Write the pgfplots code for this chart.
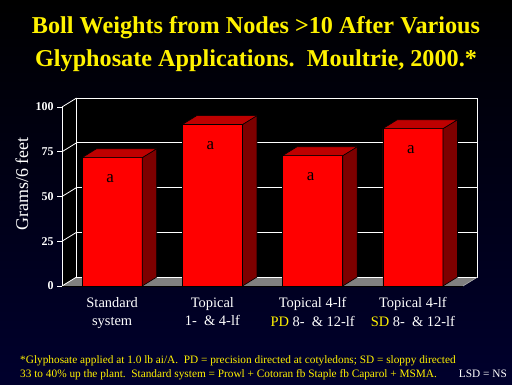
\documentclass[border=0pt]{standalone}
\usepackage{pgfplots}
\pgfplotsset{compat=1.18}
\usepackage{fontspec}
\setmainfont{Liberation Serif}
\definecolor{navybg}{RGB}{0,0,110}
\definecolor{navybot}{RGB}{0,0,45}
\definecolor{barfront}{RGB}{255,0,0}
\definecolor{bartop}{RGB}{190,0,0}
\definecolor{barside}{RGB}{125,0,0}
\definecolor{floorgray}{RGB}{128,128,128}
\begin{document}
\begin{tikzpicture}[x=1bp,y=1bp]
\useasboundingbox (0,0) rectangle (512,384);
\shade[top color=black, middle color=navybg, bottom color=navybot] (0,0) rectangle (512,384);
\begin{axis}[
  at={(62bp,98bp)}, anchor=south west,
  width=401bp, height=179bp, scale only axis,
  xmin=-0.5, xmax=3.5, ymin=0, ymax=100,
  clip=false, axis on top,
  axis lines*=left,
  axis line style={draw=white,-},
  x axis line style={draw=black},
  xtick={0,1,2,3},
  xticklabels={{Standard\\system},{Topical\\1-\ \ \& 4-lf},{Topical 4-lf\\{\color{yellow}PD} 8-\ \ \& 12-lf},{Topical 4-lf\\{\color{yellow}SD} 8-\ \ \& 12-lf}},
  xticklabel style={align=center, text=white, font=\fontsize{14.5}{18.5}\selectfont, yshift=-3bp},
  xtick style={draw=none},
  ytick={0,25,50,75,100},
  ytick style={draw=white, line width=0.8pt},
  tick align=outside,
  major tick length=5bp,
  yticklabel style={text=white, font=\bfseries\fontsize{12}{12}\selectfont},
  /pgf/number format/assume math mode=true,
]
% left wall
\fill[black] (axis cs:-0.5,0) -- (axis cs:-0.355,5) -- (axis cs:-0.355,105) -- (axis cs:-0.5,100) -- cycle;
% back wall
\fill[black] (axis cs:-0.355,5) rectangle (axis cs:3.645,105);
% floor
\fill[floorgray] (axis cs:-0.5,0) -- (axis cs:3.5,0) -- (axis cs:3.645,5) -- (axis cs:-0.355,5) -- cycle;
% wall edges and gridlines
\draw[white, line width=0.8pt] (axis cs:-0.355,5) rectangle (axis cs:3.645,105);
\draw[white, line width=0.8pt] (axis cs:-0.5,0) -- (axis cs:-0.355,5);
\draw[white, line width=0.8pt] (axis cs:-0.5,25) -- (axis cs:-0.355,30);
\draw[white, line width=0.8pt] (axis cs:-0.5,50) -- (axis cs:-0.355,55);
\draw[white, line width=0.8pt] (axis cs:-0.5,75) -- (axis cs:-0.355,80);
\draw[white, line width=0.8pt] (axis cs:-0.5,100) -- (axis cs:-0.355,105);
\draw[white, line width=0.8pt] (axis cs:-0.355,30) -- (axis cs:3.645,30);
\draw[white, line width=0.8pt] (axis cs:-0.355,55) -- (axis cs:3.645,55);
\draw[white, line width=0.8pt] (axis cs:-0.355,80) -- (axis cs:3.645,80);
\draw[floorgray!60!white, line width=0.6pt] (axis cs:3.5,0) -- (axis cs:3.645,5);
% bars
\addplot[ybar, bar width=0.6, fill=barfront, draw=black, line width=0.6pt,
  nodes near coords={a},
  every node near coord/.append style={anchor=center, yshift=-21bp, xshift=-2bp, text=black, font=\fontsize{17}{17}\selectfont}]
  coordinates {(0,71.7) (1,90.2) (2,72.8) (3,87.9)};
% bar sides
\addplot[fill=barside, draw=black, line width=0.6pt] coordinates {(0.3,0) (0.445,5) (0.445,76.7) (0.3,71.7)} -- cycle;
\addplot[fill=barside, draw=black, line width=0.6pt] coordinates {(1.3,0) (1.445,5) (1.445,95.2) (1.3,90.2)} -- cycle;
\addplot[fill=barside, draw=black, line width=0.6pt] coordinates {(2.3,0) (2.445,5) (2.445,77.8) (2.3,72.8)} -- cycle;
\addplot[fill=barside, draw=black, line width=0.6pt] coordinates {(3.3,0) (3.445,5) (3.445,92.9) (3.3,87.9)} -- cycle;
% bar tops
\addplot[fill=bartop, draw=black, line width=0.6pt] coordinates {(-0.3,71.7) (-0.155,76.7) (0.445,76.7) (0.3,71.7)} -- cycle;
\addplot[fill=bartop, draw=black, line width=0.6pt] coordinates {(0.7,90.2) (0.845,95.2) (1.445,95.2) (1.3,90.2)} -- cycle;
\addplot[fill=bartop, draw=black, line width=0.6pt] coordinates {(1.7,72.8) (1.845,77.8) (2.445,77.8) (2.3,72.8)} -- cycle;
\addplot[fill=bartop, draw=black, line width=0.6pt] coordinates {(2.7,87.9) (2.845,92.9) (3.445,92.9) (3.3,87.9)} -- cycle;
\end{axis}
\node[anchor=base, text=yellow, font=\bfseries\fontsize{24.3}{24.3}\selectfont] at (256,351) {Boll Weights from Nodes >10 After Various};
\node[anchor=base, text=yellow, font=\bfseries\fontsize{24.3}{24.3}\selectfont] at (256,317.5) {Glyphosate Applications.\ \ Moultrie, 2000.*};
\node[rotate=90, text=white, font=\fontsize{18}{18}\selectfont] at (22,200) {Grams/6 feet};
\node[anchor=base west, inner sep=0pt, text=yellow, font=\fontsize{11.35}{11.35}\selectfont] at (20,20.5) {*Glyphosate applied at 1.0 lb ai/A.\ \ PD = precision directed at cotyledons; SD = sloppy directed};
\node[anchor=base west, inner sep=0pt, text=yellow, font=\fontsize{11.35}{11.35}\selectfont] at (20,6.3) {33 to 40\% up the plant.\ \ Standard system = Prowl + Cotoran fb Staple fb Caparol + MSMA.};
\node[anchor=base east, inner sep=0pt, text=white, font=\fontsize{11.35}{11.35}\selectfont] at (507,6.3) {LSD = NS};
\end{tikzpicture}
\end{document}
